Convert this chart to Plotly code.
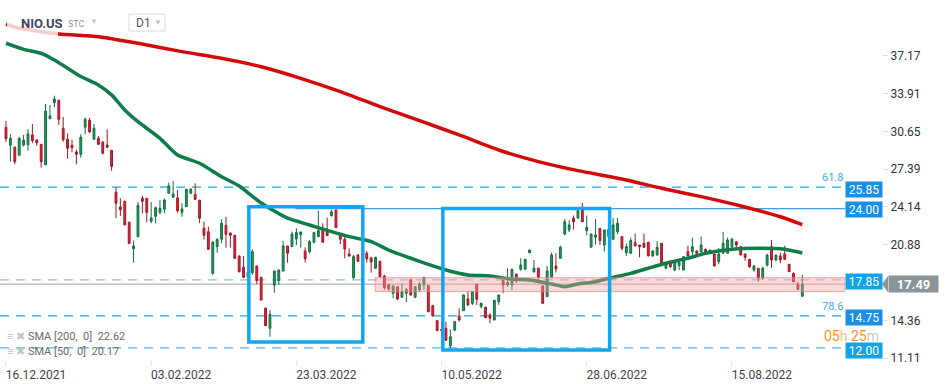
import pandas as pd
import plotly.graph_objects as go

# ---------------- data ----------------
holidays = ["2021-12-24", "2022-01-17", "2022-02-21", "2022-04-15",
            "2022-05-30", "2022-06-20", "2022-07-04", "2022-09-05"]
dates = [d.strftime("%Y-%m-%d") for d in pd.bdate_range("2021-12-16", "2022-09-07")
         if d.strftime("%Y-%m-%d") not in holidays]

opens = [31.01, 29.46, 29.29, 28.60, 29.48, 29.51, 30.35, 29.92, 29.54, 27.79,
         31.75, 33.13, 33.34, 30.92, 29.98, 29.46, 28.88, 28.68, 31.01, 31.61,
         29.98, 30.06, 29.72, 29.48, 29.03, 25.41, 24.14, 24.63, 22.82, 20.55,
         21.58, 24.89, 24.89, 22.91, 23.34, 23.68, 23.94, 25.32, 24.98, 24.92,
         23.68, 24.17, 25.32, 25.23, 24.72, 22.30, 22.01, 18.42, 20.72, 21.36,
         22.56, 21.90, 21.70, 19.92, 18.94, 18.10, 18.48, 19.05, 18.08, 15.43,
         13.68, 17.41, 17.79, 18.62, 20.78, 20.72, 21.38, 21.75, 20.35, 20.29,
         21.10, 21.58, 22.30, 22.24, 23.39, 23.88, 21.67, 21.36, 20.09, 18.04,
         20.00, 19.50, 20.15, 19.75, 18.86, 19.46, 18.19, 17.42, 16.70, 17.27,
         16.36, 16.70, 17.85, 16.36, 16.98, 17.42, 17.36, 15.63, 14.34, 13.60,
         13.68, 12.16, 13.53, 14.74, 15.20, 16.21, 15.84, 17.48, 15.55, 15.50,
         14.83, 14.40, 15.98, 17.79, 17.42, 17.42, 18.36, 18.77, 18.77, 20.20,
         18.56, 18.86, 17.33, 16.41, 18.08, 19.05, 19.72, 21.81, 22.16, 23.17,
         23.17, 23.88, 22.10, 20.67, 21.53, 22.30, 20.86, 21.60, 21.36, 22.01,
         21.58, 20.20, 20.15, 21.06, 20.86, 21.01, 21.10, 19.92, 20.00, 21.01,
         18.86, 19.29, 18.71, 19.08, 18.71, 20.29, 20.29, 20.35, 20.29, 20.49,
         20.15, 20.09, 19.43, 20.15, 20.15, 20.72, 21.15, 20.72, 20.09, 19.63,
         18.71, 18.86, 17.99, 19.14, 20.72, 19.57, 19.92, 20.09, 19.20, 18.42,
         17.47, 16.45]
highs = [31.55, 30.41, 29.35, 30.15, 30.35, 30.84, 31.30, 29.95, 29.56, 33.02,
         32.93, 33.73, 33.38, 31.90, 30.49, 29.92, 29.08, 30.41, 31.84, 31.81,
         31.30, 30.26, 29.83, 30.84, 29.05, 25.84, 24.89, 24.68, 22.87, 21.24,
         24.57, 25.11, 24.92, 24.57, 24.17, 24.74, 24.86, 26.23, 26.38, 25.61,
         24.46, 25.70, 25.78, 26.18, 24.75, 22.87, 22.44, 21.18, 21.44, 23.08,
         23.30, 21.92, 21.72, 19.95, 19.92, 19.00, 20.49, 19.10, 18.10, 15.45,
         15.26, 18.62, 18.71, 21.21, 20.80, 22.01, 22.30, 22.00, 20.67, 21.29,
         21.95, 23.80, 22.74, 23.22, 23.88, 23.90, 21.70, 21.58, 20.58, 20.00,
         20.09, 20.40, 20.35, 19.86, 19.85, 19.51, 18.30, 17.50, 17.40, 17.30,
         17.56, 17.13, 18.00, 17.30, 17.70, 18.10, 17.40, 15.70, 14.36, 14.20,
         14.26, 13.60, 14.30, 15.40, 16.60, 16.84, 16.86, 17.50, 15.90, 15.55,
         14.98, 16.12, 16.60, 17.82, 18.86, 18.80, 18.38, 19.72, 19.65, 20.45,
         19.57, 18.90, 17.35, 19.05, 20.20, 20.15, 20.80, 23.10, 23.00, 23.40,
         24.00, 24.50, 23.40, 21.83, 23.10, 22.32, 22.18, 22.50, 23.20, 23.20,
         21.60, 21.00, 21.50, 21.85, 20.88, 21.85, 21.12, 20.40, 21.20, 21.03,
         19.40, 19.40, 19.50, 19.60, 19.88, 20.80, 21.50, 20.40, 21.60, 20.55,
         20.45, 20.10, 20.60, 22.00, 21.50, 21.50, 21.17, 20.74, 20.10, 19.65,
         19.15, 18.88, 19.00, 20.10, 21.30, 20.05, 20.20, 20.80, 19.22, 18.50,
         17.70, 18.30]
lows = [29.74, 28.05, 27.82, 28.60, 29.34, 28.99, 29.63, 29.42, 27.53, 27.73,
        31.72, 32.73, 31.21, 29.77, 28.30, 28.86, 27.82, 28.39, 30.41, 30.49,
        29.95, 29.50, 28.68, 29.25, 27.27, 23.17, 23.36, 22.53, 20.92, 19.34,
        21.53, 23.60, 22.82, 22.74, 22.74, 23.51, 23.60, 25.30, 24.95, 23.65,
        23.30, 24.15, 25.26, 24.74, 22.74, 21.32, 20.47, 18.30, 20.20, 21.01,
        20.63, 20.63, 19.70, 18.50, 18.00, 17.80, 18.28, 17.50, 16.10, 13.89,
        12.96, 16.75, 17.41, 18.60, 19.34, 20.70, 20.86, 20.63, 19.34, 20.15,
        21.00, 21.55, 21.08, 21.65, 23.31, 22.34, 20.95, 19.72, 19.86, 17.91,
        19.40, 19.20, 19.34, 18.48, 18.80, 18.08, 16.98, 16.90, 16.27, 16.10,
        16.30, 15.92, 16.50, 16.30, 16.80, 16.98, 15.08, 14.70, 13.46, 13.00,
        12.60, 11.90, 13.45, 14.25, 15.18, 15.60, 15.70, 15.70, 15.40, 14.55,
        14.12, 14.38, 15.70, 16.70, 17.27, 16.98, 17.60, 18.65, 18.75, 20.15,
        18.48, 17.80, 15.82, 16.40, 18.05, 18.50, 19.70, 21.70, 21.98, 22.20,
        23.15, 22.85, 21.70, 20.65, 20.90, 20.86, 20.30, 21.30, 21.34, 21.81,
        20.40, 19.90, 20.13, 20.76, 19.80, 20.60, 19.90, 19.85, 19.95, 19.27,
        18.80, 18.90, 18.60, 18.70, 18.70, 19.90, 20.00, 20.10, 20.20, 20.00,
        20.10, 19.03, 19.20, 20.13, 20.13, 20.50, 20.60, 19.98, 19.50, 18.90,
        18.55, 17.70, 17.85, 19.00, 18.90, 19.50, 19.30, 19.60, 18.54, 17.65,
        16.95, 16.40]
closes = [30.03, 30.06, 28.05, 30.06, 29.89, 30.43, 29.86, 29.68, 28.05, 32.39,
          31.98, 33.45, 31.70, 29.94, 29.20, 29.25, 28.68, 30.15, 31.70, 30.61,
          30.92, 29.54, 28.77, 29.29, 27.65, 24.46, 23.91, 22.61, 21.01, 20.78,
          24.29, 24.63, 23.68, 23.19, 24.08, 24.03, 24.74, 25.95, 25.26, 23.82,
          23.97, 25.67, 25.67, 24.80, 23.17, 21.70, 20.49, 21.10, 21.36, 22.74,
          21.79, 21.70, 19.72, 18.56, 18.08, 18.50, 20.29, 17.79, 16.12, 13.91,
          14.89, 18.62, 18.71, 20.78, 20.15, 21.81, 21.93, 21.98, 19.68, 21.15,
          21.93, 22.10, 21.10, 21.67, 23.71, 22.36, 21.36, 20.52, 19.92, 19.86,
          19.46, 20.10, 19.68, 19.40, 19.80, 18.13, 17.20, 17.07, 17.33, 16.21,
          16.84, 17.05, 16.55, 17.27, 17.50, 18.08, 15.11, 14.77, 13.48, 13.50,
          12.65, 12.96, 14.25, 14.40, 16.55, 15.70, 16.84, 16.19, 15.84, 14.60,
          14.55, 16.10, 16.55, 17.42, 17.62, 18.77, 17.90, 19.14, 19.63, 20.43,
          18.86, 18.08, 15.84, 18.62, 20.00, 18.80, 20.67, 22.87, 22.59, 22.87,
          23.82, 22.87, 22.39, 21.81, 21.72, 21.24, 22.16, 22.20, 22.59, 22.74,
          20.58, 20.72, 21.24, 20.78, 20.72, 20.67, 19.92, 20.35, 20.67, 19.29,
          19.34, 18.99, 19.43, 19.34, 19.86, 19.92, 20.72, 20.15, 20.86, 20.09,
          20.43, 19.05, 20.09, 21.01, 21.29, 21.36, 20.86, 20.00, 19.80, 18.99,
          19.05, 17.99, 18.86, 19.99, 19.57, 19.99, 19.57, 19.63, 18.56, 17.70,
          17.04, 17.49]

sma200_bars = [0, 3, 12, 21, 30, 40, 49, 58, 67, 76, 85, 94, 103, 112, 121,
               130, 140, 149, 158, 167, 176, 181]
sma200_vals = [39.89, 39.55, 39.05, 38.82, 38.25, 37.53, 36.96, 36.23, 35.23,
               34.08, 32.79, 31.58, 30.35, 29.05, 28.05, 27.27, 26.55, 25.75,
               25.03, 24.23, 23.30, 22.62]
sma50_bars = [0, 4, 8, 11, 14, 17, 21, 24, 27, 30, 35, 39, 44, 49, 53, 58, 64,
              69, 74, 78, 83, 87, 92, 96, 101, 105, 110, 115, 119, 124, 127,
              130, 134, 137, 142, 146, 150, 155, 159, 165, 171, 177, 181]
sma50_vals = [38.25, 37.73, 37.39, 36.81, 36.10, 35.38, 34.66, 33.80, 32.50,
              31.49, 30.06, 28.62, 27.91, 26.75, 25.95, 24.48, 23.17, 22.59,
              22.01, 21.58, 21.15, 20.43, 19.72, 19.20, 18.60, 18.28, 18.19,
              17.91, 17.85, 17.50, 17.27, 17.50, 17.70, 17.99, 18.42, 18.86,
              19.29, 19.72, 20.15, 20.49, 20.58, 20.49, 20.17]

tick_bars = [0, 33, 66, 99, 132, 165]
tick_labels = ["16.12.2021", "03.02.2022", "23.03.2022", "10.05.2022",
               "28.06.2022", "15.08.2022"]
y_ticks = [11.11, 14.36, 20.88, 24.14, 27.39, 30.65, 33.91, 37.17]

levels = [25.85, 24.00, 17.85, 14.75, 12.00]
level_texts = ["25.85", "24.00", "17.85", "14.75", "12.00"]
fib_texts = {25.85: "61.8", 14.75: "78.6"}
last_price = 17.49
sma200_last = 22.62
sma50_last = 20.17

# ---------------- figure ----------------
W, H = 949, 384
PLOT_R = 845
PLOT_B = 360
FONT = "Roboto, Arial, sans-serif"
x_lo, x_hi = -1.36, 190.7
xd = PLOT_R / W
yax_pos = 882 / W

fig = go.Figure()
fig.add_trace(go.Candlestick(
    x=dates, open=opens, high=highs, low=lows, close=closes,
    increasing=dict(fillcolor="#2a9d66", line=dict(color="#0f6e3f", width=1)),
    decreasing=dict(fillcolor="#e3283b", line=dict(color="#a51526", width=1)),
    whiskerwidth=0, showlegend=False, hoverinfo="skip"))
fig.add_trace(go.Scatter(
    x=[dates[i] for i in sma200_bars], y=sma200_vals, mode="lines",
    line=dict(color="#d20a0a", width=3.5, shape="spline", smoothing=0.6),
    showlegend=False, hoverinfo="skip"))
fig.add_trace(go.Scatter(
    x=[dates[i] for i in sma50_bars], y=sma50_vals, mode="lines",
    line=dict(color="#0f7d4a", width=3.5, shape="spline", smoothing=0.6),
    showlegend=False, hoverinfo="skip"))

shapes = []
dash = "9px,7px"
line_cols = {25.85: "#1ea3f0", 17.85: "#8cc4ee", 14.75: "#1ea3f0", 12.00: "#5bb5ee"}
for lv, col in line_cols.items():
    shapes.append(dict(type="line", xref="paper", yref="y", x0=0, x1=xd, y0=lv, y1=lv,
                       line=dict(color=col, width=1.3, dash=dash), layer="below"))
# solid 24.00 level
shapes.append(dict(type="line", xref="x", yref="y", x0=65.8, x1=x_hi, y0=24.0, y1=24.0,
                   line=dict(color="#3d9cf0", width=1.3), layer="below"))
# current price line
shapes.append(dict(type="line", xref="paper", yref="y", x0=0, x1=yax_pos,
                   y0=last_price, y1=last_price,
                   line=dict(color="#a0a0a0", width=1), layer="below"))
# pink zone
shapes.append(dict(type="rect", xref="x", yref="y", x0=83.9, x1=x_hi, y0=16.84, y1=18.04,
                   fillcolor="rgba(245,160,160,0.40)",
                   line=dict(color="rgba(235,130,130,0.7)", width=1), layer="above"))
# blue boxes
for (a, b, lo, hi) in [(55.2, 81.1, 12.5, 24.17), (99.3, 137.2, 11.81, 24.0)]:
    shapes.append(dict(type="rect", xref="x", yref="y", x0=a, x1=b, y0=lo, y1=hi,
                       line=dict(color="#13a6ee", width=3.5), layer="above"))
# price arrow tip
shapes.append(dict(type="path", xref="paper", yref="y",
                   path=f"M {yax_pos},{last_price} L {888/W},{last_price+0.69} "
                        f"L {888/W},{last_price-0.69} Z",
                   fillcolor="#8a9597", line=dict(width=0), layer="above"))
# title veil and D1 box
shapes.append(dict(type="rect", xref="paper", yref="paper", x0=7/W, x1=58/W,
                   y0=1-36/PLOT_B, y1=1-12/PLOT_B, fillcolor="rgba(255,255,255,0.8)",
                   line=dict(width=0), layer="above"))
shapes.append(dict(type="rect", xref="paper", yref="paper", x0=129/W, x1=165/W,
                   y0=1-31/PLOT_B, y1=1-14/PLOT_B, fillcolor="white",
                   line=dict(color="#dcdcdc", width=1), layer="above"))

ann = []
box_cols = ["#1a8fe6", "#1a8fe6", "#14a3e8", "#1a8fe6", "#14a3e8"]
box_shift = [-2, -1, -2, -2, -3]
for lv, txt, col, sh in zip(levels, level_texts, box_cols, box_shift):
    ann.append(dict(xref="paper", yref="y", x=xd, y=lv, xanchor="left", yanchor="middle",
                    yshift=sh, text=txt, showarrow=False, bgcolor=col, width=32, height=11,
                    borderpad=2, font=dict(family=FONT, size=12, color="white")))
for lv, txt in fib_texts.items():
    ann.append(dict(xref="paper", yref="y", x=xd, y=lv, xanchor="right", yanchor="bottom",
                    yshift=1, text=txt, showarrow=False,
                    font=dict(family=FONT, size=11, color="#3aaaf5")))
ann.append(dict(xref="paper", yref="y", x=888/W, y=last_price, xanchor="left",
                yanchor="middle", text=f"<b>{last_price:.2f}</b>", showarrow=False,
                bgcolor="#8a9597", width=45, height=12, borderpad=2,
                font=dict(family=FONT, size=13, color="white")))
ann.append(dict(xref="paper", yref="paper", x=822/W, y=1-335.5/PLOT_B, xanchor="left",
                yanchor="middle", showarrow=False,
                text="<span style='color:#f7931e'>05</span><span style='color:#f4c08a'>h</span> "
                     "<span style='color:#f7931e'>25</span><span style='color:#c8c8c8'>m</span>",
                font=dict(family=FONT, size=14)))
for yy, txt in [(336.7, f"SMA [200,  0]  {sma200_last:.2f}"),
                (351.7, f"SMA [50,  0]  {sma50_last:.2f}")]:
    ann.append(dict(xref="paper", yref="paper", x=5/W, y=1-yy/PLOT_B, xanchor="left",
                    yanchor="middle", showarrow=False,
                    text=f"<span style='color:#c4c4c4'>≡ ✖</span> {txt}",
                    font=dict(family=FONT, size=11, color="#6b6b6b")))
# header
ann.append(dict(xref="paper", yref="paper", x=19/W, y=1-23/PLOT_B, xanchor="left",
                yanchor="middle", showarrow=False, text="<b>NIO.US</b>",
                font=dict(family=FONT, size=13, color="#3d4852")))
ann.append(dict(xref="paper", yref="paper", x=66/W, y=1-24/PLOT_B, xanchor="left",
                yanchor="middle", showarrow=False, text="STC",
                font=dict(family=FONT, size=9, color="#8b97a5")))
ann.append(dict(xref="paper", yref="paper", x=88/W, y=1-21/PLOT_B, xanchor="left",
                yanchor="middle", showarrow=False, text="▼",
                font=dict(family=FONT, size=8, color="#c8c8c8")))
ann.append(dict(xref="paper", yref="paper", x=134/W, y=1-23/PLOT_B, xanchor="left",
                yanchor="middle", showarrow=False, text="D1",
                font=dict(family=FONT, size=12, color="#555")))
ann.append(dict(xref="paper", yref="paper", x=152/W, y=1-22/PLOT_B, xanchor="left",
                yanchor="middle", showarrow=False, text="▼",
                font=dict(family=FONT, size=8, color="#c0c0c0")))

fig.update_layout(
    width=W, height=H, margin=dict(l=0, r=0, t=0, b=H - PLOT_B),
    paper_bgcolor="white", plot_bgcolor="white", showlegend=False,
    boxgap=0.4, shapes=shapes, annotations=ann,
    font=dict(family=FONT),
    xaxis=dict(type="category", domain=[0, xd], range=[x_lo, x_hi],
               rangeslider=dict(visible=False), showgrid=False, zeroline=False,
               showline=False, tickvals=[dates[i] for i in tick_bars],
               ticktext=tick_labels, ticks="outside", ticklen=4,
               tickcolor="#e3e3e3", ticklabelshift=30,
               tickfont=dict(family=FONT, size=12, color="#444")),
    yaxis=dict(side="right", anchor="free", position=yax_pos, range=[10.95, 41.98],
               tickvals=y_ticks, ticktext=[f"{v:.2f}" for v in y_ticks],
               showgrid=False, zeroline=False, showline=False, ticks="outside",
               ticklen=5, tickcolor="#dcdcdc",
               tickfont=dict(family=FONT, size=12, color="#333")),
)

fig.write_html("out.html", config={"displayModeBar": False},
               post_script="document.body.style.margin='0px';"
                           "document.body.style.overflow='hidden';")
